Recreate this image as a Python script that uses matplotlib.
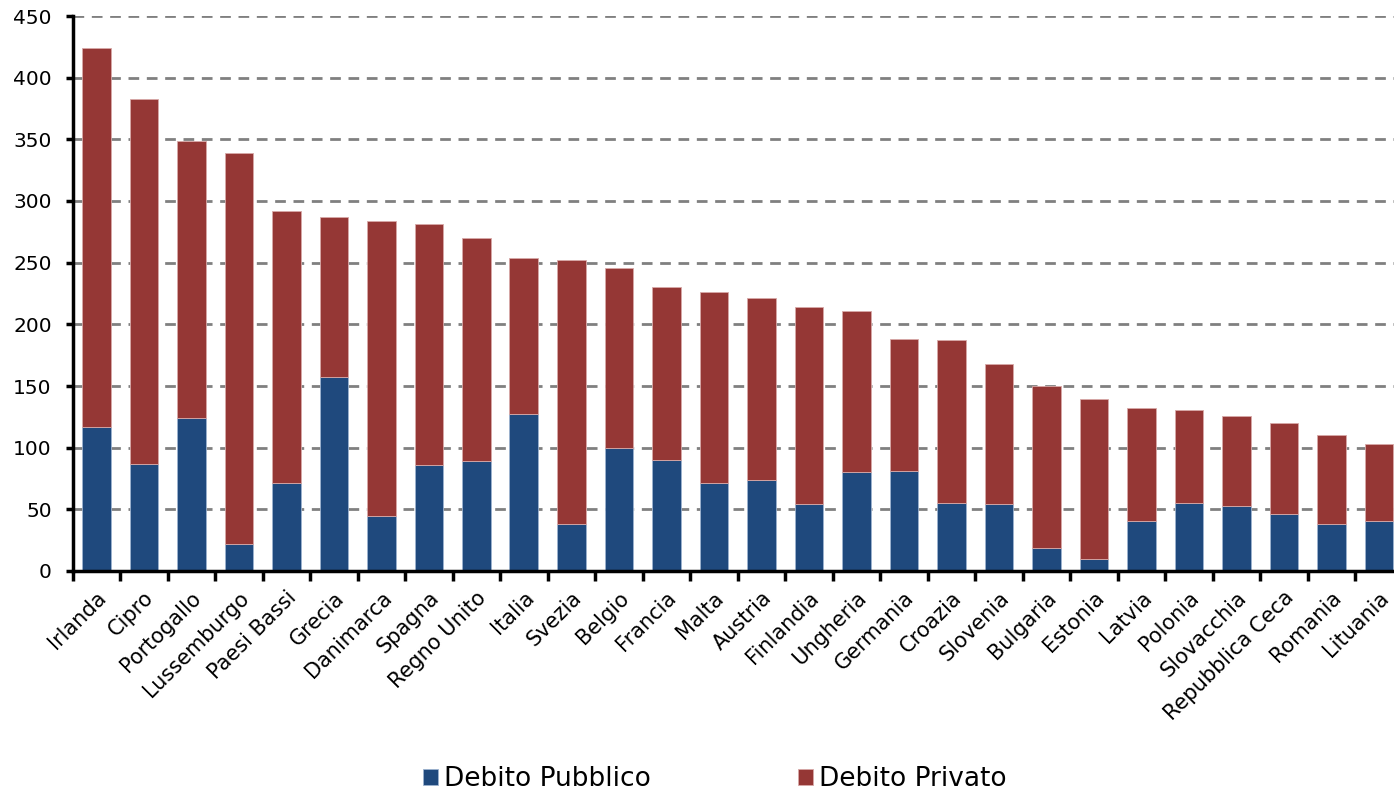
import matplotlib
matplotlib.use("Agg")
import matplotlib.pyplot as plt
import numpy as np

countries = ["Irlanda", "Cipro", "Portogallo", "Lussemburgo", "Paesi Bassi", "Grecia",
             "Danimarca", "Spagna", "Regno Unito", "Italia", "Svezia", "Belgio",
             "Francia", "Malta", "Austria", "Finlandia", "Ungheria", "Germania",
             "Croazia", "Slovenia", "Bulgaria", "Estonia", "Latvia", "Polonia",
             "Slovacchia", "Repubblica Ceca", "Romania", "Lituania"]
totale = [424, 383, 349, 339, 292, 287, 284, 281, 270, 254, 252, 246,
          230, 226, 221, 214, 211, 188, 187, 168, 150, 139.5, 132, 130.5,
          125.5, 120, 110.5, 103]
debito_pubblico = [117, 87, 124, 22, 71, 157, 45, 86, 89, 127, 38, 100,
                   90, 71, 74, 54, 80, 81, 55, 54.5, 18.5, 9.7, 40.3, 55.4,
                   52.5, 46, 38, 40.3]
debito_privato = [t - p for t, p in zip(totale, debito_pubblico)]
yticks = [0, 50, 100, 150, 200, 250, 300, 350, 400, 450]

blue = "#1F497D"
red = "#953735"

fig = plt.figure(figsize=(13.94, 7.91), dpi=100)
ax = fig.add_axes([72.5 / 1394, 1 - 571 / 791, (1402.5 - 72.5) / 1394, (571 - 16) / 791])

x = np.arange(len(countries))
ax.bar(x, debito_pubblico, width=0.6, color=blue, edgecolor="#9DB3D0", linewidth=0.6,
       label="Debito Pubblico", zorder=3)
ax.bar(x, debito_privato, bottom=debito_pubblico, width=0.6, color=red,
       edgecolor="#D8A9A8", linewidth=0.6, label="Debito Privato", zorder=3)

ax.set_xlim(-0.5, len(countries) - 0.5)
ax.set_ylim(0, 450)
ax.set_yticks(yticks)
ax.set_yticklabels([str(v) for v in yticks], fontsize=14.5)

ax.set_xticks(np.arange(len(countries) + 1) - 0.5)
ax.set_xticklabels([])
ax.set_xticks(x, minor=True)
ax.set_xticklabels(countries, minor=True, rotation=45, ha="right",
                   rotation_mode="anchor", fontsize=15)
ax.tick_params(axis="x", which="minor", length=0, pad=12)
ax.tick_params(axis="x", which="major", length=7, width=2.5, direction="out")
ax.tick_params(axis="y", length=5, width=2.5, direction="out", pad=10)

for v in yticks[1:]:
    ax.axhline(v, color="#808080", linestyle=(0, (3.85, 2.75)), linewidth=2, zorder=1)

for s in ["top", "right"]:
    ax.spines[s].set_visible(False)
for s in ["left", "bottom"]:
    ax.spines[s].set_linewidth(2.5)
    ax.spines[s].set_zorder(4)

leg = fig.legend(loc="center", bbox_to_anchor=(714.5 / 1394, 1 - 779 / 791), ncol=2,
                 frameon=False, fontsize=19, handlelength=0.57, handleheight=0.57,
                 handletextpad=0.23, columnspacing=5.57, borderpad=0.1)

fig.savefig("out.png", dpi=100)
